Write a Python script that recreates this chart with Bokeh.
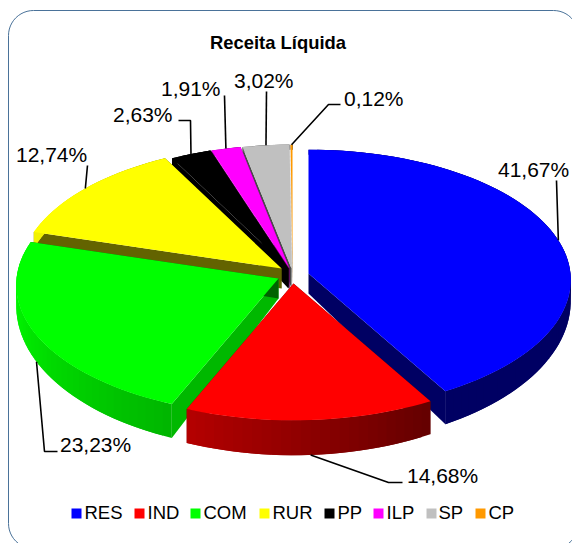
import math
from bokeh.core.properties import value
from bokeh.embed import file_html
from bokeh.models import ColumnDataSource
from bokeh.plotting import figure
from bokeh.resources import INLINE

W, H = 572, 543
title = "Receita Líquida"
categories = ["RES", "IND", "COM", "RUR", "PP", "ILP", "SP", "CP"]
shares = [41.67, 14.68, 23.23, 12.74, 2.63, 1.91, 3.02, 0.12]
labels = ["41,67%", "14,68%", "23,23%", "12,74%", "2,63%", "1,91%", "3,02%", "0,12%"]
colors = [(0, 0, 255), (255, 0, 0), (0, 255, 0), (255, 255, 0), (0, 0, 0), (255, 0, 255), (192, 192, 192), (255, 153, 0)]

# layout of the exploded perspective pie (screen pixels)
apex = [(308, 273), (293, 283), (278, 278), (281, 268), (288, 268), (289, 268), (291, 268), (292, 268)]
RX, RY, PERSP = 262, 130, 0.05
label_xy = [(497.5, 168.5), (406.5, 474.5), (59.5, 443.5), (15.5, 153.5), (112.5, 113.5), (160.5, 87.5), (233.5, 79.5), (343.5, 97.5)]
elbows = [[], [(388, 482), (402, 482)], [(44, 451), (57, 451)], [], [(190, 120), (178, 120)], [(224, 95)], [(266, 91)], [(328, 104), (340, 104)]]
leader_end = [(556, 180), None, None, (87, 165), None, None, None, None]
swatch_x = [71, 134, 190, 259, 324, 373, 426, 475]
legend_tx = [84, 147, 203, 272, 337, 386, 438, 488]


def project(i, theta, radius=1.0, low=False):
    X = radius * math.sin(theta)
    Y = radius * math.cos(theta)
    s = 1 / (1 + PERSP * Y)
    ax, ay = apex[i]
    x = ax + RX * X * s
    y = ay - RY * Y * s
    if low:
        y += 20 - 15 * Y
    return x, y


def shade_of(deg):
    pts = [(0, .39), (150, .39), (205, .72), (260, .95), (300, .95), (360, .39)]
    for (a, u), (b, v) in zip(pts, pts[1:]):
        if a <= deg <= b:
            return u + (v - u) * (deg - a) / (b - a)
    return .39


def tone(c, f):
    return "#%02x%02x%02x" % tuple(int(round(v * f)) for v in c)


xs, ys, fills = [], [], []


def add(poly, col):
    xs.append([q[0] for q in poly])
    ys.append([q[1] for q in poly])
    fills.append(col)


total = sum(shares)
edges = [0.0]
for v in shares:
    edges.append(edges[-1] + v / total * 360)

for i in [7, 6, 5, 4, 3, 2, 0, 1]:
    a, b = math.radians(edges[i]), math.radians(edges[i + 1])
    n = max(2, int(abs(edges[i + 1] - edges[i]) / 2))
    ang = [a + (b - a) * k / n for k in range(n + 1)]
    c = colors[i]
    for t, f in ((a, .72 if i == 2 else .39), (b, .39)):
        add([project(i, 0, 0), project(i, t), project(i, t, low=True), project(i, 0, 0, low=True)], tone(c, f))
    # rim: overlapping bands, last to first, so no seams show between them
    for k in range(n):
        t0, t1 = ang[k], ang[min(k + 2, n)]
        add([project(i, t0), project(i, t1), project(i, t1, low=True), project(i, t0, low=True)],
            tone(c, shade_of(math.degrees((ang[k] + ang[k + 1]) / 2))))
    add([project(i, 0, 0)] + [project(i, t) for t in ang], tone(c, 1))

p = figure(width=W, height=H, x_range=(0, W), y_range=(H, 0), toolbar_location=None,
           output_backend="svg", min_border=0, outline_line_color=None)
p.axis.visible = False
p.grid.visible = False

# rounded frame, running off the right and bottom of the picture
L, T, R, B, r = 8, 10, 578, 548, 25
frame = []
for cx, cy, a0 in ((L + r, T + r, 180), (R - r, T + r, 270), (R - r, B - r, 0), (L + r, B - r, 90)):
    for k in range(13):
        t = math.radians(a0 + k * 7.5)
        frame.append((cx + r * math.cos(t), cy + r * math.sin(t)))
frame.append(frame[0])
p.line([q[0] for q in frame], [q[1] for q in frame], line_color="#4a7299", line_width=1)

src = ColumnDataSource(dict(xs=xs, ys=ys, fill=fills))
p.patches("xs", "ys", source=src, fill_color="fill", line_color=None)

# leader lines: from each slice's rim at its middle angle to its label
for i in range(len(shares)):
    t = math.radians((edges[i] + edges[i + 1]) / 2)
    pts = [project(i, t, low=i in (1, 2))]
    pts += elbows[i]
    if leader_end[i]:
        pts.append(leader_end[i])
    p.line([q[0] for q in pts], [q[1] for q in pts], line_color="black", line_width=1.6)

font = value("Liberation Sans")
p.text([q[0] for q in label_xy], [q[1] for q in label_xy], text=labels, text_font=font, text_font_size="21px",
       text_color="black", text_baseline="middle", text_align="left")
p.text([277.5], [42], text=[title], text_font=font, text_font_size="18.4px", text_font_style="bold",
       text_color="black", text_baseline="middle", text_align="center")
p.rect([x + 5 for x in swatch_x], [513] * 8, width=10, height=10,
       fill_color=[tone(c, 1) for c in colors], line_color=None)
p.text(legend_tx, [512] * 8, text=categories, text_font=font, text_font_size="18.5px",
       text_color="black", text_baseline="middle", text_align="left")

open("out.html", "w").write(file_html(p, INLINE))
